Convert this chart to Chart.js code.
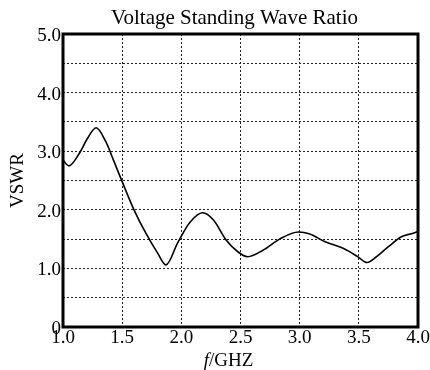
<!DOCTYPE html>
<html>
<head>
<meta charset="utf-8">
<script src="https://cdn.jsdelivr.net/npm/chart.js@4"></script>
<style>
  body { margin: 0; background: #fff; }
</style>
</head>
<body>
<canvas id="myChart" width="430" height="370"></canvas>
<script>
// frequency (GHz) and VSWR
var freq = [1.0, 1.05, 1.14, 1.21, 1.28, 1.36, 1.43, 1.5, 1.6, 1.7, 1.8, 1.87, 1.97, 2.07, 2.18, 2.27, 2.38, 2.48, 2.56, 2.69, 2.83, 2.99, 3.08, 3.21, 3.38, 3.49, 3.57, 3.65, 3.75, 3.86, 3.96, 4.0];
var vswr = [2.85, 2.75, 2.97, 3.23, 3.40, 3.17, 2.83, 2.48, 2.0, 1.60, 1.26, 1.06, 1.44, 1.78, 1.95, 1.83, 1.48, 1.28, 1.20, 1.31, 1.50, 1.62, 1.59, 1.46, 1.33, 1.20, 1.10, 1.20, 1.37, 1.54, 1.60, 1.63];
var xTicks = [1.0, 1.5, 2.0, 2.5, 3.0, 3.5, 4.0];
var yLabels = [0, 1, 2, 3, 4, 5];

var chartTitle = 'Voltage Standing Wave Ratio';
var FONT = '"Liberation Serif", "Times New Roman", serif';

// thick frame round the plot, title, x title with italic f
var framePlugin = {
    id: 'frame',
    afterDraw: function(chart) {
        var ctx = chart.ctx;
        var a = chart.chartArea;
        var mid = (a.left + a.right) / 2;
        ctx.save();
        ctx.lineWidth = 3;
        ctx.strokeStyle = '#000';
        ctx.strokeRect(a.left, a.top, a.right - a.left, a.bottom - a.top);

        ctx.fillStyle = '#000';
        ctx.textBaseline = 'alphabetic';
        ctx.textAlign = 'center';
        ctx.font = '21px ' + FONT;
        ctx.fillText(chartTitle, mid - 6, a.top - 10);

        ctx.textAlign = 'left';
        ctx.font = 'italic 19px ' + FONT;
        var w1 = ctx.measureText('f').width;
        ctx.font = '19px ' + FONT;
        var w2 = ctx.measureText('/GHZ').width;
        var x = mid - 12 - (w1 + w2) / 2;
        var y = a.bottom + 39;
        ctx.font = 'italic 19px ' + FONT;
        ctx.fillText('f', x, y);
        ctx.font = '19px ' + FONT;
        ctx.fillText('/GHZ', x + w1, y);
        ctx.restore();
    }
};

var chartData = {
    type: 'line',
    data: {
        datasets: [{
            label: 'VSWR',
            data: freq.map(function(f, i) { return { x: f, y: vswr[i] }; }),
            borderColor: '#000',
            borderWidth: 1.6,
            pointRadius: 0,
            cubicInterpolationMode: 'monotone',
            fill: false
        }]
    },
    options: {
        responsive: false,
        animation: false,
        layout: { padding: { left: 0, right: 12, top: 34, bottom: 0 } },
        plugins: {
            legend: { display: false },
            tooltip: { enabled: false },
            title: { display: false }
        },
        scales: {
            x: {
                type: 'linear',
                min: 1,
                max: 4,
                afterBuildTicks: function(scale) {
                    scale.ticks = xTicks.map(function(v) { return { value: v }; });
                },
                afterFit: function(scale) { scale.height = 43; },
                grid: { color: '#222', lineWidth: 1, drawTicks: false },
                border: { display: false, dash: [2, 2] },
                ticks: {
                    color: '#000',
                    padding: 0,
                    maxRotation: 0,
                    autoSkip: false,
                    font: { family: FONT, size: 19 },
                    callback: function(v) { return v.toFixed(1); }
                }
            },
            y: {
                min: 0,
                max: 5,
                afterFit: function(scale) { scale.width = 63; },
                grid: { color: '#222', lineWidth: 1, drawTicks: false },
                border: { display: false, dash: [2, 2] },
                title: {
                    display: true,
                    text: 'VSWR',
                    color: '#000',
                    font: { family: FONT, size: 19 },
                    padding: { top: 7, bottom: 0 }
                },
                ticks: {
                    stepSize: 0.5,
                    autoSkip: false,
                    color: '#000',
                    padding: 2,
                    labelOffset: 2,
                    font: { family: FONT, size: 19 },
                    callback: function(v) {
                        if (yLabels.indexOf(v) < 0) return '';
                        return v === 0 ? '0' : v.toFixed(1);
                    }
                }
            }
        }
    },
    plugins: [framePlugin]
};

var chartArea = document.getElementById('myChart').getContext('2d');
var myChart = new Chart(chartArea, chartData);
</script>
</body>
</html>
